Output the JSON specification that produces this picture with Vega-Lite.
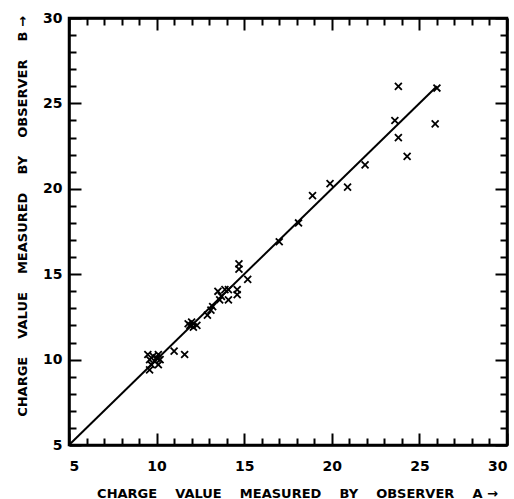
{
  "$schema": "https://vega.github.io/schema/vega-lite/v6.json",
  "width": 438,
  "height": 427,
  "autosize": "none",
  "padding": {"left": 69, "top": 18, "right": 7, "bottom": 54},
  "background": "white",
  "config": {
    "view": {"stroke": "black", "strokeWidth": 2.5},
    "axis": {
      "domainColor": "black", "domainWidth": 2.5, "tickColor": "black", "tickWidth": 2,
      "grid": false, "labelFont": "DejaVu Sans", "labelFontWeight": "bold", "labelFontSize": 14, "labelColor": "black",
      "titleFont": "DejaVu Sans", "titleFontWeight": "bold", "titleFontSize": 13, "titleColor": "black"
    }
  },
  "datasets": {
    "fit": [{"a": 5, "b": 5}, {"a": 26, "b": 26}],
    "obs": [
      {"a": 9.5, "b": 10.3}, {"a": 9.6, "b": 10.0}, {"a": 9.8, "b": 10.2}, {"a": 10.0, "b": 10.1},
      {"a": 10.1, "b": 10.3}, {"a": 10.2, "b": 10.0}, {"a": 9.7, "b": 9.7}, {"a": 9.6, "b": 9.4},
      {"a": 10.1, "b": 9.7}, {"a": 9.9, "b": 9.9}, {"a": 11.0, "b": 10.5}, {"a": 11.6, "b": 10.3},
      {"a": 11.8, "b": 12.1}, {"a": 12.0, "b": 12.2}, {"a": 12.1, "b": 11.9}, {"a": 12.3, "b": 12.0},
      {"a": 11.9, "b": 12.0}, {"a": 12.9, "b": 12.6}, {"a": 13.1, "b": 12.9}, {"a": 13.2, "b": 13.1},
      {"a": 13.6, "b": 13.5}, {"a": 14.1, "b": 13.5}, {"a": 13.5, "b": 14.0}, {"a": 13.9, "b": 14.1},
      {"a": 14.1, "b": 14.1}, {"a": 14.6, "b": 14.1}, {"a": 14.6, "b": 13.8}, {"a": 14.7, "b": 15.6},
      {"a": 14.7, "b": 15.3}, {"a": 15.2, "b": 14.7}, {"a": 13.7, "b": 13.7},
      {"a": 17.0, "b": 16.9}, {"a": 18.1, "b": 18.0}, {"a": 18.9, "b": 19.6}, {"a": 19.9, "b": 20.3},
      {"a": 20.9, "b": 20.1}, {"a": 21.9, "b": 21.4}, {"a": 23.6, "b": 24.0}, {"a": 23.8, "b": 26.0},
      {"a": 23.8, "b": 23.0}, {"a": 24.3, "b": 21.9}, {"a": 26.0, "b": 25.9}, {"a": 25.9, "b": 23.8}
    ]
  },
  "layer": [
    {
      "data": {"name": "fit"},
      "mark": {"type": "line", "color": "black", "strokeWidth": 2},
      "encoding": {
        "x": {
          "field": "a", "type": "quantitative",
          "scale": {"domain": [5, 30], "nice": false, "zero": false},
          "axis": {
            "orient": "bottom",
            "title": "CHARGE\u00a0\u00a0\u00a0 VALUE\u00a0\u00a0\u00a0 MEASURED\u00a0\u00a0\u00a0 BY\u00a0\u00a0\u00a0 OBSERVER\u00a0\u00a0\u00a0 A →",
            "values": [5,6,7,8,9,10,11,12,13,14,15,16,17,18,19,20,21,22,23,24,25,26,27,28,29,30],
            "labelExpr": "datum.value % 5 === 0 ? datum.label : ''",
            "tickSize": {"condition": {"test": "datum.value % 5 === 0", "value": -12}, "value": -7},
            "labelPadding": 26,
            "titleX": 228, "titleY": 48, "titleBaseline": "middle"
          }
        },
        "y": {
          "field": "b", "type": "quantitative",
          "scale": {"domain": [5, 30], "nice": false, "zero": false},
          "axis": {
            "orient": "left",
            "title": "CHARGE\u00a0\u00a0\u00a0 VALUE\u00a0\u00a0\u00a0 MEASURED\u00a0\u00a0\u00a0 BY\u00a0\u00a0\u00a0 OBSERVER\u00a0\u00a0\u00a0 B →",
            "values": [5,6,7,8,9,10,11,12,13,14,15,16,17,18,19,20,21,22,23,24,25,26,27,28,29,30],
            "labelExpr": "datum.value % 5 === 0 ? datum.label : ''",
            "tickSize": {"condition": {"test": "datum.value % 5 === 0", "value": -12}, "value": -7},
            "labelPadding": 19,
            "titleX": -47, "titleY": 198, "titleBaseline": "middle"
          }
        }
      }
    },
    {
      "data": {"name": "obs"},
      "mark": {"type": "point", "shape": "M-1,-1L1,1M-1,1L1,-1", "filled": false, "color": "black", "strokeWidth": 1.8, "size": 48, "opacity": 1},
      "encoding": {
        "x": {
          "field": "a", "type": "quantitative",
          "axis": {
            "orient": "top", "title": null, "labels": false,
            "values": [5,6,7,8,9,10,11,12,13,14,15,16,17,18,19,20,21,22,23,24,25,26,27,28,29,30],
            "tickSize": {"condition": {"test": "datum.value % 5 === 0", "value": -12}, "value": -7}
          }
        },
        "y": {
          "field": "b", "type": "quantitative",
          "axis": {
            "orient": "right", "title": null, "labels": false,
            "values": [5,6,7,8,9,10,11,12,13,14,15,16,17,18,19,20,21,22,23,24,25,26,27,28,29,30],
            "tickSize": {"condition": {"test": "datum.value % 5 === 0", "value": -12}, "value": -7}
          }
        }
      }
    }
  ],
  "resolve": {"axis": {"x": "independent", "y": "independent"}}
}
